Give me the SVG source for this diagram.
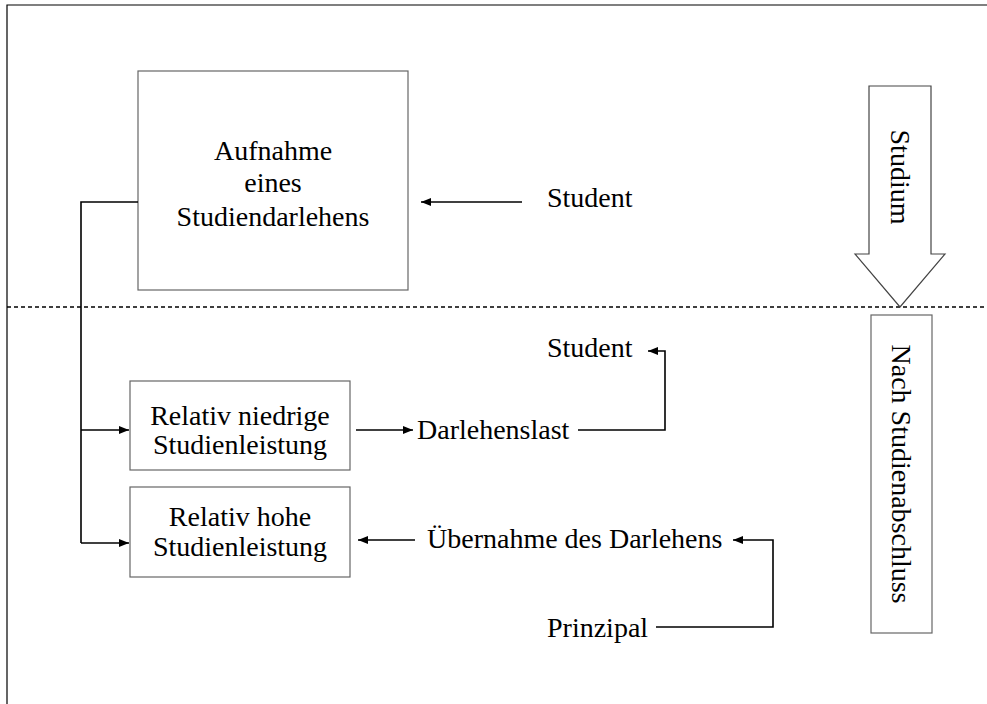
<svg xmlns="http://www.w3.org/2000/svg" width="987" height="704" viewBox="0 0 987 704">
<style>
text{font-family:"Liberation Serif","Times New Roman",serif;font-size:28px;fill:#000}
.box{fill:#fff;stroke:#666;stroke-width:1.2}
.c{fill:none;stroke:#000;stroke-width:1.6}
.m{text-anchor:middle}
</style>
<defs>
<marker id="ah" viewBox="0 0 10 8" refX="10" refY="4" markerWidth="10" markerHeight="8" markerUnits="userSpaceOnUse" orient="auto">
<path d="M0,0 L10,4 L0,8 Z" fill="#000"/>
</marker>
</defs>
<rect width="987" height="704" fill="#fff"/>
<path d="M7,704 V5 H987" fill="none" stroke="#000" stroke-width="1.2"/>
<line x1="7" y1="307" x2="987" y2="307" stroke="#000" stroke-width="1.4" stroke-dasharray="4,3"/>

<g id="n-aufnahme">
<rect class="box" x="138" y="71" width="270" height="219"/>
<text class="m" x="273" y="160">Aufnahme</text>
<text class="m" x="273" y="192">eines</text>
<text class="m" x="273" y="226">Studiendarlehens</text>
</g>
<g id="n-niedrig">
<rect class="box" x="130" y="381" width="220" height="89"/>
<text class="m" x="240" y="425">Relativ niedrige</text>
<text class="m" x="240" y="454">Studienleistung</text>
</g>
<g id="n-hoch">
<rect class="box" x="130" y="487" width="220" height="90"/>
<text class="m" x="240" y="526">Relativ hohe</text>
<text class="m" x="240" y="556">Studienleistung</text>
</g>
<g id="n-student1"><text x="547" y="207">Student</text></g>
<g id="n-student2"><text x="547" y="357">Student</text></g>
<g id="n-darlehenslast"><text x="417" y="439">Darlehenslast</text></g>
<g id="n-uebernahme"><text x="427" y="548">Übernahme des Darlehens</text></g>
<g id="n-prinzipal"><text x="547" y="637">Prinzipal</text></g>
<g id="n-studium">
<path d="M869,86 H931 V254 H945 L900,307 L855,254 H869 Z" fill="#fff" stroke="#444" stroke-width="1.2"/>
<text class="m" transform="translate(900,177) rotate(90)" y="9">Studium</text>
</g>
<g id="n-nach">
<rect class="box" x="871" y="315" width="61" height="318"/>
<text class="m" transform="translate(901,474) rotate(90)" y="9">Nach Studienabschluss</text>
</g>

<g id="connectors">
<path class="c" d="M138,202 H81 V543"/>
<path class="c" d="M81,430 H129" marker-end="url(#ah)"/>
<path class="c" d="M81,543 H129" marker-end="url(#ah)"/>
<path class="c" d="M522,202 H421" marker-end="url(#ah)"/>
<path class="c" d="M356,430 H413" marker-end="url(#ah)"/>
<path class="c" d="M578,430 H665 V351 H648" marker-end="url(#ah)"/>
<path class="c" d="M415,540 H358" marker-end="url(#ah)"/>
<path class="c" d="M656,627 H773 V540 H733" marker-end="url(#ah)"/>
</g>
</svg>
